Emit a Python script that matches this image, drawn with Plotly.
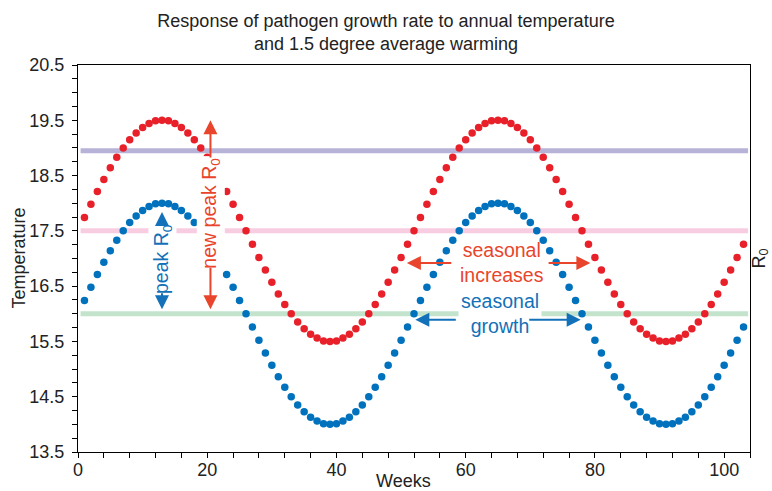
import plotly.graph_objects as go

# ---------------- data ----------------
weeks = list(range(1, 104))

current_temp = [
    16.24, 16.48, 16.71, 16.93, 17.14, 17.33, 17.50, 17.65, 17.77, 17.87, 17.94, 17.99, 18.00,
    17.99, 17.94, 17.87, 17.77, 17.65, 17.50, 17.33, 17.14, 16.93, 16.71, 16.48, 16.24, 16.00,
    15.76, 15.52, 15.29, 15.07, 14.86, 14.67, 14.50, 14.35, 14.23, 14.13, 14.06, 14.01, 14.00,
    14.01, 14.06, 14.13, 14.23, 14.35, 14.50, 14.67, 14.86, 15.07, 15.29, 15.52, 15.76, 16.00,
    16.24, 16.48, 16.71, 16.93, 17.14, 17.33, 17.50, 17.65, 17.77, 17.87, 17.94, 17.99, 18.00,
    17.99, 17.94, 17.87, 17.77, 17.65, 17.50, 17.33, 17.14, 16.93, 16.71, 16.48, 16.24, 16.00,
    15.76, 15.52, 15.29, 15.07, 14.86, 14.67, 14.50, 14.35, 14.23, 14.13, 14.06, 14.01, 14.00,
    14.01, 14.06, 14.13, 14.23, 14.35, 14.50, 14.67, 14.86, 15.07, 15.29, 15.52, 15.76,
]

warmed_temp = [
    17.74, 17.98, 18.21, 18.43, 18.64, 18.83, 19.00, 19.15, 19.27, 19.37, 19.44, 19.49, 19.50,
    19.49, 19.44, 19.37, 19.27, 19.15, 19.00, 18.83, 18.64, 18.43, 18.21, 17.98, 17.74, 17.50,
    17.26, 17.02, 16.79, 16.57, 16.36, 16.17, 16.00, 15.85, 15.73, 15.63, 15.56, 15.51, 15.50,
    15.51, 15.56, 15.63, 15.73, 15.85, 16.00, 16.17, 16.36, 16.57, 16.79, 17.02, 17.26, 17.50,
    17.74, 17.98, 18.21, 18.43, 18.64, 18.83, 19.00, 19.15, 19.27, 19.37, 19.44, 19.49, 19.50,
    19.49, 19.44, 19.37, 19.27, 19.15, 19.00, 18.83, 18.64, 18.43, 18.21, 17.98, 17.74, 17.50,
    17.26, 17.02, 16.79, 16.57, 16.36, 16.17, 16.00, 15.85, 15.73, 15.63, 15.56, 15.51, 15.50,
    15.51, 15.56, 15.63, 15.73, 15.85, 16.00, 16.17, 16.36, 16.57, 16.79, 17.02, 17.26,
]

ref_span = [0.4, 103.7]
ref_high = 18.95
ref_mid = 17.5
ref_low = 16.0

x_ticks = [0, 20, 40, 60, 80, 100]
y_ticks = [13.5, 14.5, 15.5, 16.5, 17.5, 18.5, 19.5, 20.5]

# ---------------- style ----------------
FONT = "Liberation Sans, Arial, Helvetica, sans-serif"
BLUE = "#0072bd"
RED = "#e8202a"
BLUE_T = "#1271b8"
RED_T = "#e8452c"

fig = go.Figure()

for lvl, col in [(ref_high, "#b7b3d8"), (ref_mid, "#f8cce1"), (ref_low, "#c3e3cc")]:
    fig.add_trace(go.Scatter(x=ref_span, y=[lvl, lvl], mode="lines",
                             line=dict(color=col, width=5), hoverinfo="skip",
                             showlegend=False))

fig.add_trace(go.Scatter(x=weeks, y=warmed_temp, mode="markers",
                         marker=dict(color=RED, size=7.5, line=dict(width=0)),
                         showlegend=False))
fig.add_trace(go.Scatter(x=weeks, y=current_temp, mode="markers",
                         marker=dict(color=BLUE, size=7.5, line=dict(width=0)),
                         showlegend=False))

ann = []

# text labels (drawn first so the arrows sit above their backgrounds)
ann.append(dict(x=13, y=16.99, xref="x", yref="y", text="peak R<sub>0</sub>",
                textangle=-90, showarrow=False, bgcolor="white", borderpad=1,
                font=dict(family=FONT, size=19.5, color=BLUE_T)))
ann.append(dict(x=20.5, y=17.82, xref="x", yref="y", text="new peak R<sub>0</sub>",
                textangle=-90, showarrow=False, bgcolor="white", borderpad=1,
                font=dict(family=FONT, size=19.5, color=RED_T)))
ann.append(dict(x=65.6, y=16.92, xref="x", yref="y", text="seasonal<br>increases",
                showarrow=False, font=dict(family=FONT, size=19.5, color=RED_T)))
ann.append(dict(x=65.3, y=16.0, xref="x", yref="y", text="seasonal<br>growth",
                showarrow=False, bgcolor="white", borderpad=2,
                font=dict(family=FONT, size=19.5, color=BLUE_T)))


def arrow(x, y, ax, ay, color):
    return dict(x=x, y=y, ax=ax, ay=ay, xref="x", yref="y", axref="x", ayref="y",
                text="", showarrow=True, arrowhead=2, arrowsize=1.4, arrowwidth=2,
                arrowcolor=color, standoff=0, startstandoff=0)


# peak R0
ann.append(arrow(13, 17.84, 13, 17.58, BLUE_T))
ann.append(arrow(13, 16.08, 13, 16.40, BLUE_T))
# new peak R0
ann.append(arrow(20.5, 19.5, 20.5, 18.80, RED_T))
ann.append(arrow(20.5, 16.08, 20.5, 16.86, RED_T))
# seasonal increases
ann.append(arrow(50.9, 16.92, 58.0, 16.92, RED_T))
ann.append(arrow(79.3, 16.92, 72.6, 16.92, RED_T))
# seasonal growth
ann.append(arrow(52.2, 15.89, 58.7, 15.89, BLUE_T))
ann.append(arrow(77.8, 15.89, 69.6, 15.89, BLUE_T))

# axis titles
ann.append(dict(x=0.485, y=0, xref="paper", yref="paper", yshift=-29, yanchor="middle",
                text="Weeks", showarrow=False, font=dict(family=FONT, size=18, color="#222")))
ann.append(dict(x=0, y=0.5, xref="paper", yref="paper", xshift=-60, xanchor="center",
                text="Temperature", textangle=-90, showarrow=False,
                font=dict(family=FONT, size=18, color="#222")))
ann.append(dict(x=1, y=0.5, xref="paper", yref="paper", xshift=10, xanchor="center",
                text="R<sub>0</sub>", textangle=-90, showarrow=False,
                font=dict(family=FONT, size=18, color="#222")))

axis_common = dict(showline=True, linecolor="black", linewidth=1.2, mirror=True,
                   showgrid=False, zeroline=False, ticks="outside", ticklen=5,
                   tickwidth=1, tickcolor="black",
                   tickfont=dict(family=FONT, size=18, color="#222"))

fig.update_layout(
    width=772, height=491,
    margin=dict(l=78, r=22, t=65, b=39, autoexpand=False),
    paper_bgcolor="white", plot_bgcolor="white",
    title=dict(text="Response of pathogen growth rate to annual temperature<br>and 1.5 degree average warming",
               x=0.5, xref="container", xanchor="center",
               y=0.946, yref="container", yanchor="top",
               font=dict(family=FONT, size=18, color="#222")),
    xaxis=dict(range=[0, 104], tickvals=x_ticks, ticklabelstandoff=-4,
               minor=dict(dtick=4, tick0=0, ticks="outside", ticklen=5, tickcolor="black",
                          showgrid=False),
               **axis_common),
    yaxis=dict(range=[13.5, 20.5], tickvals=y_ticks, tickformat=".1f", ticklabelstandoff=4,
               minor=dict(dtick=0.25, tick0=13.5, ticks="outside", ticklen=5, tickcolor="black",
                          showgrid=False),
               **axis_common),
    annotations=ann,
    showlegend=False,
)

fig.write_html("out.html", config={"displayModeBar": False},
               post_script="document.body.style.margin='0';")
